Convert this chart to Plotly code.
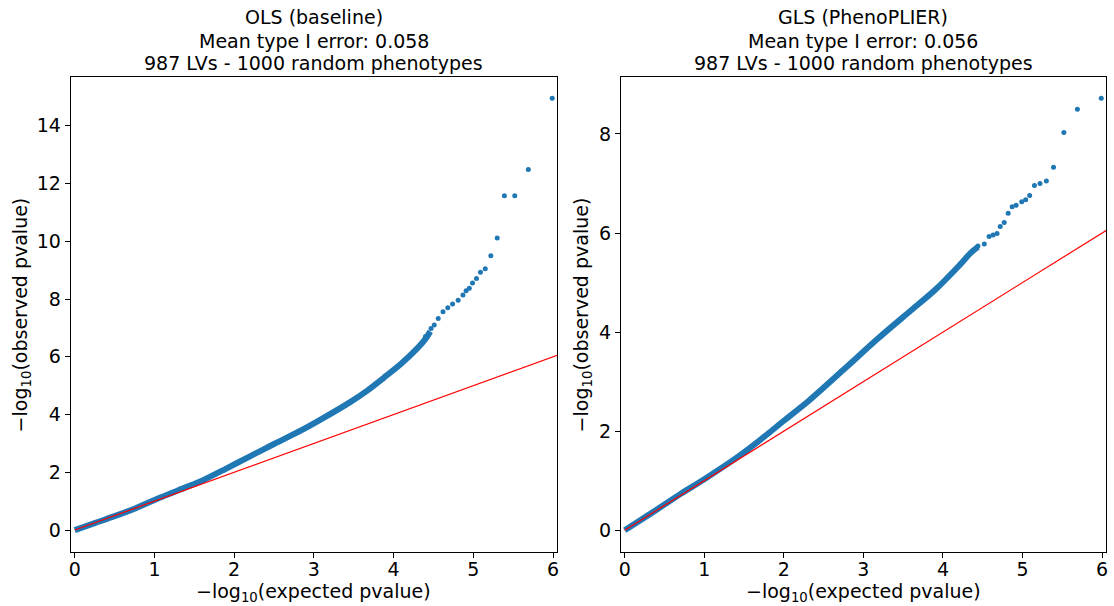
import plotly.graph_objects as go

# ---------------- data ----------------
# OLS (baseline): dense part of the QQ scatter
ols_band_expected = [0.0, 0.25, 0.5, 0.75, 1.05, 1.3, 1.59, 1.9, 2.21, 2.5, 2.84, 3.1, 3.46, 3.67, 3.88, 4.09, 4.30, 4.40, 4.46]
ols_band_observed = [0.0, 0.24, 0.48, 0.74, 1.10, 1.38, 1.70, 2.13, 2.57, 2.98, 3.45, 3.85, 4.44, 4.83, 5.28, 5.75, 6.30, 6.62, 6.88]
# OLS: sparse tail points
ols_tail_expected = [4.40, 4.47, 4.51, 4.56, 4.62, 4.68, 4.74, 4.81, 4.87, 4.91, 4.95, 4.99, 5.04, 5.09, 5.15, 5.22, 5.30, 5.39, 5.52, 5.69, 5.99]
ols_tail_observed = [6.70, 6.98, 7.10, 7.33, 7.56, 7.70, 7.83, 7.96, 8.14, 8.29, 8.37, 8.56, 8.71, 8.93, 9.05, 9.50, 10.11, 11.58, 11.58, 12.49, 14.95]

# GLS (PhenoPLIER): dense part
gls_band_expected = [0.0, 0.35, 0.71, 1.0, 1.42, 1.7, 2.0, 2.31, 2.77, 3.19, 3.60, 3.90, 4.19, 4.35, 4.44]
gls_band_observed = [0.0, 0.36, 0.74, 1.03, 1.48, 1.82, 2.21, 2.61, 3.27, 3.88, 4.44, 4.85, 5.32, 5.60, 5.72]
# GLS: sparse tail points
gls_tail_expected = [4.44, 4.52, 4.58, 4.63, 4.68, 4.72, 4.77, 4.82, 4.87, 4.92, 4.99, 5.04, 5.09, 5.15, 5.22, 5.30, 5.39, 5.52, 5.69, 5.99]
gls_tail_observed = [5.74, 5.78, 5.93, 5.96, 5.99, 6.13, 6.21, 6.40, 6.53, 6.56, 6.63, 6.67, 6.76, 6.96, 7.00, 7.05, 7.33, 8.03, 8.50, 8.72]

# identity reference line (expected == observed)
ref_line = [0.0, 6.1]

titles_ols = ["OLS (baseline)", "Mean type I error: 0.058", "987 LVs - 1000 random phenotypes"]
titles_gls = ["GLS (PhenoPLIER)", "Mean type I error: 0.056", "987 LVs - 1000 random phenotypes"]

x_ticks = [0, 1, 2, 3, 4, 5, 6]
y_ticks_ols = [0, 2, 4, 6, 8, 10, 12, 14]
y_ticks_gls = [0, 2, 4, 6, 8]

# ---------------- figure ----------------
W, H = 1114, 606
BLUE = "#1f77b4"
FONT = "DejaVu Sans"
FS = 19

fig = go.Figure()

def add_panel(xa, ya, band_x, band_y, tail_x, tail_y):
    fig.add_trace(go.Scatter(x=band_x, y=band_y, mode="lines",
                             line=dict(color=BLUE, width=6, shape="spline", smoothing=0.8),
                             xaxis=xa, yaxis=ya, showlegend=False, hoverinfo="skip"))
    fig.add_trace(go.Scatter(x=tail_x, y=tail_y, mode="markers",
                             marker=dict(color=BLUE, size=5, line=dict(width=0)),
                             xaxis=xa, yaxis=ya, showlegend=False, cliponaxis=False))
    fig.add_trace(go.Scatter(x=ref_line, y=ref_line, mode="lines",
                             line=dict(color="#ff0000", width=1.2),
                             xaxis=xa, yaxis=ya, showlegend=False, hoverinfo="skip"))

add_panel("x", "y", ols_band_expected, ols_band_observed, ols_tail_expected, ols_tail_observed)
add_panel("x2", "y2", gls_band_expected, gls_band_observed, gls_tail_expected, gls_tail_observed)

# panel pixel boxes
L1, R1 = 69, 557
L2, R2 = 621, 1108
TOP, BOT = 77, 552

def px(v):
    return v / W

def py(v):
    return 1 - v / H

axis_common = dict(showgrid=False, zeroline=False, showline=True, mirror=True,
                   linecolor="black", linewidth=1, ticks="outside", ticklen=5,
                   tickwidth=1, tickcolor="black",
                   tickfont=dict(family=FONT, size=FS, color="black"))

fig.update_layout(
    width=W, height=H,
    margin=dict(l=0, r=0, t=0, b=0),
    paper_bgcolor="white", plot_bgcolor="white",
    font=dict(family=FONT, size=FS, color="black"),
    xaxis=dict(domain=[px(L1), px(R1)], range=[-0.05, 6.05], tickvals=x_ticks,
               anchor="y", ticklabelstandoff=-5, **axis_common),
    yaxis=dict(domain=[py(BOT), py(TOP)], range=[-0.76, 15.69], tickvals=y_ticks_ols,
               anchor="x", **axis_common),
    xaxis2=dict(domain=[px(L2), px(R2)], range=[-0.05, 6.05], tickvals=x_ticks,
                anchor="y2", ticklabelstandoff=-5, **axis_common),
    yaxis2=dict(domain=[py(BOT), py(TOP)], range=[-0.44, 9.15], tickvals=y_ticks_gls,
                anchor="x2", **axis_common),
)

ann = []
title_rows = [17, 41, 63]
for cx, lines in [((L1 + R1) / 2, titles_ols), ((L2 + R2) / 2, titles_gls)]:
    for row, txt in zip(title_rows, lines):
        ann.append(dict(x=px(cx), y=py(row), xref="paper", yref="paper",
                        text=txt, showarrow=False, xanchor="center", yanchor="middle",
                        font=dict(family=FONT, size=FS, color="black")))
    ann.append(dict(x=px(cx), y=py(592), xref="paper", yref="paper",
                    text="\u2212log<sub>10</sub>(expected pvalue)", showarrow=False,
                    xanchor="center", yanchor="middle",
                    font=dict(family=FONT, size=FS, color="black")))
for cx in [20, 583]:
    ann.append(dict(x=px(cx), y=py((TOP + BOT) / 2), xref="paper", yref="paper",
                    text="\u2212log<sub>10</sub>(observed pvalue)", showarrow=False,
                    textangle=-90, xanchor="center", yanchor="middle",
                    font=dict(family=FONT, size=FS, color="black")))
fig.update_layout(annotations=ann)

fig.write_html("out.html")
